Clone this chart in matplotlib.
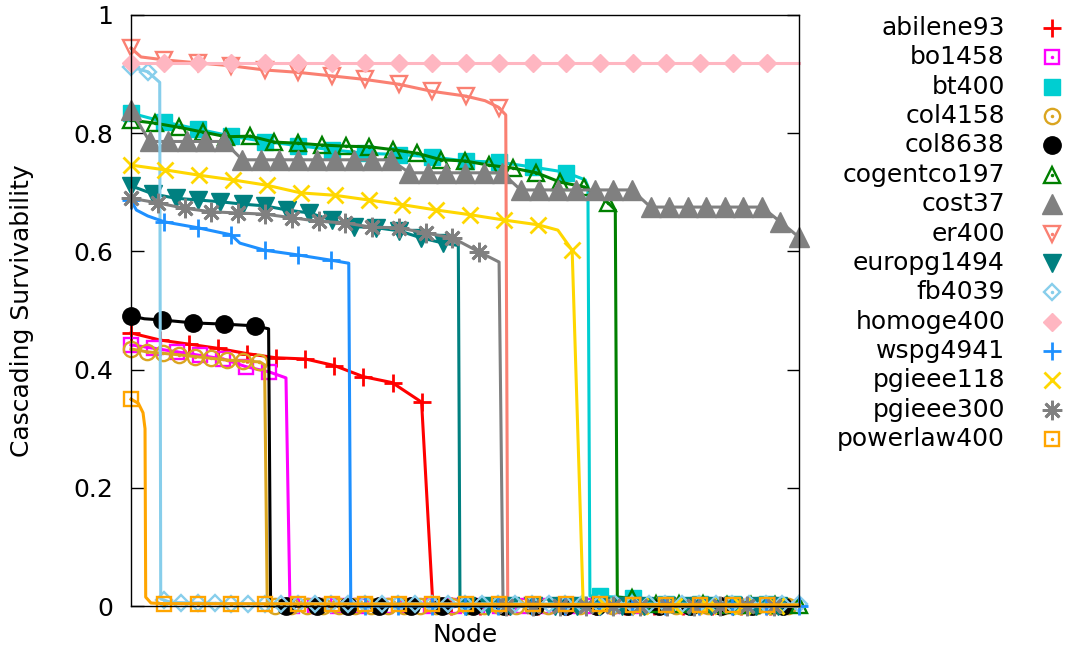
import matplotlib.pyplot as plt
import numpy as np

# x: position of the node in the attack order, scaled to 0..1 for every network
# y: cascading survivability after that node is removed
abilene93_x = [0, 0.0435, 0.087, 0.13, 0.174, 0.217, 0.261, 0.304, 0.348, 0.391, 0.435, 0.452, 1.0]
abilene93_y = [0.462, 0.450, 0.443, 0.436, 0.427, 0.420, 0.418, 0.407, 0.388, 0.378, 0.345, 0.0, 0.0]

bo1458_x = [0, 0.0345, 0.069, 0.1035, 0.138, 0.172, 0.207, 0.232, 0.238, 1.0]
bo1458_y = [0.442, 0.436, 0.430, 0.424, 0.418, 0.405, 0.396, 0.386, 0.0, 0.0]

bt400_x = [0, 0.05, 0.1, 0.15, 0.2, 0.25, 0.3, 0.35, 0.4, 0.45, 0.5, 0.55, 0.6, 0.65,
           0.68, 0.684, 0.687, 0.75, 0.765, 1.0]
bt400_y = [0.834, 0.819, 0.807, 0.795, 0.786, 0.779, 0.772, 0.766, 0.764, 0.760, 0.753, 0.751, 0.743, 0.734,
           0.721, 0.710, 0.017, 0.014, 0.004, 0.003]

col4158_x = [0, 0.024, 0.072, 0.145, 0.193, 0.2, 0.204, 1.0]
col4158_y = [0.435, 0.430, 0.425, 0.416, 0.413, 0.408, 0.0, 0.0]

col8638_x = [0, 0.02, 0.046, 0.093, 0.139, 0.186, 0.206, 0.209, 1.0]
col8638_y = [0.491, 0.486, 0.484, 0.479, 0.477, 0.474, 0.469, 0.0, 0.0]

cogentco197_x = [0, 0.0357, 0.0714, 0.1071, 0.1429, 0.1786, 0.2143, 0.25, 0.2857, 0.3214, 0.3571,
                 0.3929, 0.4286, 0.4643, 0.5, 0.5357, 0.5714, 0.6071, 0.6429, 0.6786, 0.7143,
                 0.725, 0.728, 0.75, 0.76, 1.0]
cogentco197_y = [0.822, 0.817, 0.810, 0.802, 0.794, 0.795, 0.785, 0.783, 0.780, 0.778, 0.777,
                 0.772, 0.766, 0.755, 0.753, 0.746, 0.741, 0.733, 0.717, 0.709, 0.682,
                 0.670, 0.015, 0.013, 0.003, 0.002]

cost37_x = list(np.linspace(0, 1, 37))
cost37_y = [0.839, 0.786, 0.786, 0.786, 0.786, 0.786, 0.755, 0.755, 0.755, 0.755, 0.755, 0.755,
            0.755, 0.755, 0.755, 0.733, 0.733, 0.733, 0.733, 0.733, 0.733, 0.704, 0.704, 0.704,
            0.704, 0.704, 0.704, 0.704, 0.675, 0.675, 0.675, 0.675, 0.675, 0.675, 0.675, 0.650, 0.624]

er400_x = [0, 0.015, 0.05, 0.1, 0.15, 0.2, 0.25, 0.3, 0.35, 0.4, 0.45, 0.5, 0.53, 0.55, 0.561, 0.564, 1.0]
er400_y = [0.944, 0.929, 0.924, 0.919, 0.914, 0.907, 0.903, 0.897, 0.891, 0.883, 0.871, 0.863, 0.855,
           0.844, 0.831, 0.0, 0.0]

europg1494_x = [0, 0.0334, 0.0668, 0.1002, 0.1336, 0.167, 0.2004, 0.2338, 0.2672, 0.3006, 0.334,
                0.3674, 0.4008, 0.4342, 0.4676, 0.49, 0.4925, 1.0]
europg1494_y = [0.711, 0.697, 0.690, 0.687, 0.684, 0.680, 0.677, 0.670, 0.665, 0.653, 0.642,
                0.640, 0.635, 0.623, 0.614, 0.610, 0.0, 0.0]

fb4039_x = [0, 0.025, 0.043, 0.0445, 0.06, 0.15, 1.0]
fb4039_y = [0.912, 0.904, 0.886, 0.012, 0.006, 0.004, 0.003]

homoge400_x = [0, 1.0]
homoge400_y = [0.919, 0.919]

wspg4941_x = [0, 0.008, 0.025, 0.05, 0.1, 0.15, 0.163, 0.2, 0.25, 0.3, 0.326, 0.329, 1.0]
wspg4941_y = [0.687, 0.670, 0.660, 0.650, 0.640, 0.628, 0.614, 0.602, 0.594, 0.585, 0.580, 0.0, 0.0]

pgieee118_x = [0, 0.0508, 0.1016, 0.1524, 0.2032, 0.254, 0.3048, 0.3556, 0.4064, 0.4572, 0.508,
               0.5588, 0.6096, 0.639, 0.6604, 0.677, 1.0]
pgieee118_y = [0.746, 0.738, 0.729, 0.721, 0.712, 0.699, 0.695, 0.687, 0.679, 0.670, 0.662,
               0.653, 0.645, 0.636, 0.602, 0.0, 0.0]

pgieee300_x = [0, 0.0401, 0.0802, 0.1203, 0.1604, 0.2005, 0.2406, 0.2807, 0.3208, 0.3609, 0.401,
               0.4411, 0.4812, 0.5213, 0.551, 0.557, 1.0]
pgieee300_y = [0.690, 0.682, 0.673, 0.667, 0.665, 0.663, 0.657, 0.651, 0.648, 0.641, 0.640,
               0.631, 0.623, 0.599, 0.582, 0.0, 0.0]

powerlaw400_x = [0, 0.011, 0.018, 0.021, 0.022, 0.03, 0.05, 1.0]
powerlaw400_y = [0.350, 0.343, 0.327, 0.300, 0.015, 0.005, 0.004, 0.002]

ytick_vals = [0, 0.2, 0.4, 0.6, 0.8, 1]
ytick_labels = ['0', '0.2', '0.4', '0.6', '0.8', '1']

# name, x, y, color, marker, size, hollow, marker spacing
series = [
    ('abilene93', abilene93_x, abilene93_y, '#ff0000', '+', 13, False, 0.0435),
    ('bo1458', bo1458_x, bo1458_y, '#ff00ff', 's', 10.5, True, 0.0345),
    ('bt400', bt400_x, bt400_y, '#00ced1', 's', 11.5, False, 0.0501),
    ('col4158', col4158_x, col4158_y, '#daa520', 'o', 11, True, 0.024),
    ('col8638', col8638_x, col8638_y, '#000000', 'o', 12.5, False, 0.0465),
    ('cogentco197', cogentco197_x, cogentco197_y, '#008000', '^', 11.5, True, 0.0357),
    ('cost37', cost37_x, cost37_y, '#808080', '^', 14, False, 1 / 36),
    ('er400', er400_x, er400_y, '#fa8072', 'v', 11.5, True, 0.0501),
    ('europg1494', europg1494_x, europg1494_y, '#008080', 'v', 13.5, False, 0.0334),
    ('fb4039', fb4039_x, fb4039_y, '#87ceeb', 'D', 8.5, True, 0.025),
    ('homoge400', homoge400_x, homoge400_y, '#ffb6c1', 'D', 9.5, False, 0.0501),
    ('wspg4941', wspg4941_x, wspg4941_y, '#1e90ff', '+', 13, False, 0.05),
    ('pgieee118', pgieee118_x, pgieee118_y, '#ffd700', 'x', 12, False, 0.0508),
    ('pgieee300', pgieee300_x, pgieee300_y, '#808080', (8, 2, 0), 14, False, 0.0401),
    ('powerlaw400', powerlaw400_x, powerlaw400_y, '#ffa500', 's', 10.5, True, 0.0501),
]

W, H = 1068, 648
fig = plt.figure(figsize=(W / 100, H / 100), dpi=100)
ax = fig.add_axes([131 / W, 42 / H, 668 / W, 591 / H])


def marker_style(color, marker, ms, hollow):
    kw = dict(ls='none', marker=marker, ms=ms, color=color, clip_on=False)
    if hollow:
        kw.update(mfc='none', mew=1.7)
    elif marker in ('+', 'x') or isinstance(marker, tuple):
        kw.update(mew=2)
    return kw


for name, xs, ys, color, marker, ms, hollow, step in series:
    ax.plot(xs, ys, color=color, lw=2.2, clip_on=False)
    mx = np.arange(0, 1.0001, step)
    my = np.interp(mx, xs, ys)
    ax.plot(mx, my, **marker_style(color, marker, ms, hollow))
    if hollow:
        ax.plot(mx, my, ls='none', marker='.', ms=3, color=color, clip_on=False)

ax.set_xlim(0, 1)
ax.set_ylim(0, 1)
ax.set_xticks([])
ax.set_yticks(ytick_vals)
ax.set_yticklabels(ytick_labels)
ax.tick_params(axis='y', direction='in', length=9, width=1, right=True, pad=13, labelsize=18)
for sp in ax.spines.values():
    sp.set_linewidth(1)
ax.set_xlabel('Node', fontsize=18)
ax.xaxis.set_label_coords(0.5, -0.028)
ax.set_ylabel('Cascading Survivability', fontsize=18)
ax.yaxis.set_label_coords(-0.145, 0.5)

# legend drawn by hand: right aligned names, marker sample to the right
lax = fig.add_axes([0, 0, 1, 1])
lax.set_xlim(0, W)
lax.set_ylim(H, 0)
lax.axis('off')
for i, (name, xs, ys, color, marker, ms, hollow, step) in enumerate(series):
    ry = 28 + 29.36 * i
    lax.text(1005, ry, name, ha='right', va='center', fontsize=18)
    lax.plot([1052], [ry], **marker_style(color, marker, ms, hollow))
    if hollow:
        lax.plot([1052], [ry], ls='none', marker='.', ms=3, color=color)

fig.savefig('out.png', dpi=100)
